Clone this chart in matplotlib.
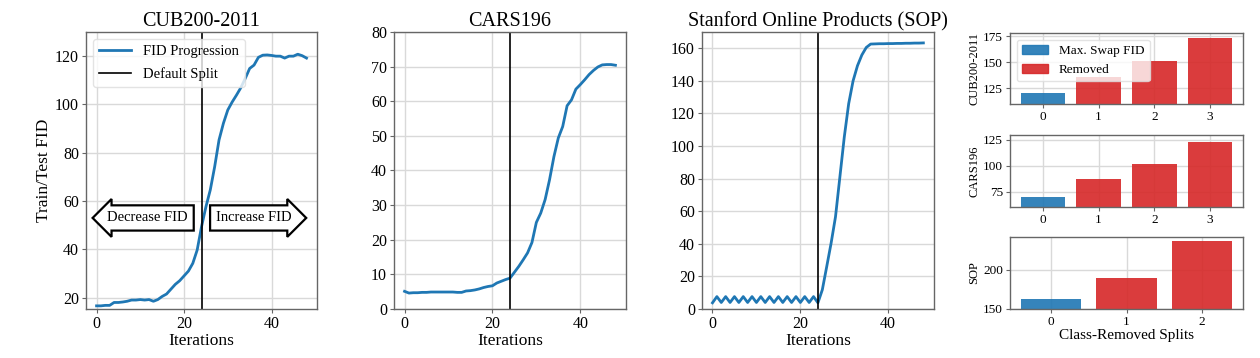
import numpy as np
import matplotlib
matplotlib.use("Agg")
from matplotlib import pyplot as plt
from matplotlib.patches import Patch

plt.rcParams['font.family'] = ['Liberation Serif', 'DejaVu Serif']

# FID progression over swap iterations
iters = np.arange(49)
cub_fid = [16.6, 16.6, 16.8, 16.8, 18.0, 18.0, 18.2, 18.5, 19.0, 19.0,
           19.2, 19.0, 19.2, 18.5, 19.2, 20.5, 21.5, 23.5, 25.5, 27.0,
           29.0, 31.0, 34.2, 39.7, 49.4, 57.6, 64.6, 74.2, 85.3, 92.2,
           97.7, 101.0, 103.9, 107.0, 110.8, 114.9, 116.3, 119.5, 120.4, 120.5,
           120.3, 120.0, 120.0, 119.2, 120.0, 120.0, 120.8, 120.2, 119.2]
cars_fid = [5.1, 4.6, 4.7, 4.7, 4.8, 4.8, 4.9, 4.9, 4.9, 4.9,
            4.9, 4.9, 4.8, 4.8, 5.2, 5.3, 5.5, 5.8, 6.2, 6.5,
            6.7, 7.5, 8.0, 8.5, 8.9, 10.6, 12.3, 14.2, 16.2, 19.2,
            25.0, 27.7, 31.6, 37.3, 44.0, 49.4, 52.7, 58.7, 60.4, 63.5,
            64.8, 66.2, 67.7, 68.9, 69.9, 70.5, 70.6, 70.6, 70.4]
sop_fid = [3.8, 7.6, 4.0, 7.6, 4.0, 7.6, 4.0, 7.6, 4.0, 7.6,
           4.0, 7.6, 4.0, 7.6, 4.0, 7.6, 4.0, 7.6, 4.0, 7.6,
           4.0, 7.6, 4.0, 7.6, 3.8, 11.8, 26.0, 40.4, 56.6, 81.1,
           105.6, 126.0, 140.0, 149.3, 155.9, 160.5, 162.6, 162.7, 162.8, 162.8,
           162.9, 162.9, 163.0, 163.0, 163.1, 163.1, 163.2, 163.2, 163.3]
default_split = 24

# class-removed splits
cub_splits = [120.8, 136.1, 151.4, 172.8]
cars_splits = [70.2, 87.0, 101.5, 123.4]
sop_splits = [162.7, 189.4, 236.2]

blue = '#1f77b4'
red = '#d62728'


def style(ax, fs=10):
    ax.grid(True, color='#d9d9d9', lw=1.0)
    ax.set_axisbelow(True)
    for s in ax.spines.values():
        s.set_color('#666666')
        s.set_linewidth(1.0)
    ax.tick_params(labelsize=fs, length=3, color='#666666', pad=2)


fig = plt.figure(figsize=(12.6, 3.58), dpi=100)

line_axes = [fig.add_axes([0.0683, 0.1369, 0.1833, 0.7737]),
             fig.add_axes([0.3127, 0.1369, 0.1841, 0.7737]),
             fig.add_axes([0.5571, 0.1369, 0.1841, 0.7737])]
titles = ['CUB200-2011', 'CARS196', 'Stanford Online Products (SOP)']
curves = [cub_fid, cars_fid, sop_fid]
ylims = [(15.3, 130), (0, 80), (0, 170)]
yticks = [range(20, 121, 20), range(0, 81, 10), range(0, 161, 20)]

for ax, t, c, yl, yt in zip(line_axes, titles, curves, ylims, yticks):
    style(ax, 11.5)
    ax.plot(iters, c, color=blue, lw=2, label='FID Progression')
    ax.axvline(default_split, color='black', lw=1.2, label='Default Split')
    ax.set_ylim(*yl)
    ax.set_yticks(list(yt))
    ax.set_xlim(-2.4, 50.4)
    ax.set_xticks([0, 20, 40])
    ax.set_title(t, fontsize=14.5, pad=4)
    ax.set_xlabel('Iterations', fontsize=12.5, labelpad=1)

line_axes[0].set_ylabel('Train/Test FID', fontsize=12.5, labelpad=2)
line_axes[0].legend(loc='upper left', fontsize=10.5, framealpha=0.8,
                    edgecolor='#dddddd', handlelength=2.2, labelspacing=0.6)
line_axes[0].text(11.6, 53, 'Decrease FID', ha='center', va='center', fontsize=10.5,
                  bbox=dict(boxstyle='larrow,pad=0.42', fc='white', ec='black', lw=1.6))
line_axes[0].text(36.0, 53, 'Increase FID', ha='center', va='center', fontsize=10.5,
                  bbox=dict(boxstyle='rarrow,pad=0.42', fc='white', ec='black', lw=1.6))

bar_axes = [fig.add_axes([0.8016, 0.7095, 0.1849, 0.1983]),
            fig.add_axes([0.8016, 0.4218, 0.1849, 0.2011]),
            fig.add_axes([0.8016, 0.1369, 0.1849, 0.2011])]
bar_data = [cub_splits, cars_splits, sop_splits]
bar_names = ['CUB200-2011', 'CARS196', 'SOP']
bar_ylims = [(110, 178), (60.5, 129.8), (150, 241.5)]
bar_yticks = [[125, 150, 175], [75, 100, 125], [150, 200]]

for ax, d, n, yl, yt in zip(bar_axes, bar_data, bar_names, bar_ylims, bar_yticks):
    style(ax, 9.5)
    pos = np.arange(len(d))
    cols = [blue] + [red] * (len(d) - 1)
    ax.bar(pos, d, width=0.8, color=cols, alpha=0.9)
    ax.set_ylim(*yl)
    ax.set_yticks(yt)
    ax.set_xticks(pos)
    ax.set_ylabel(n, fontsize=9, labelpad=2)

bar_axes[2].set_xlabel('Class-Removed Splits', fontsize=11, labelpad=1)
bar_axes[0].legend(handles=[Patch(color=blue, alpha=0.9, label='Max. Swap FID'),
                            Patch(color=red, alpha=0.9, label='Removed')],
                   loc='upper left', fontsize=9.5, framealpha=0.8, edgecolor='#dddddd')

fig.savefig('out.png', dpi=100)
